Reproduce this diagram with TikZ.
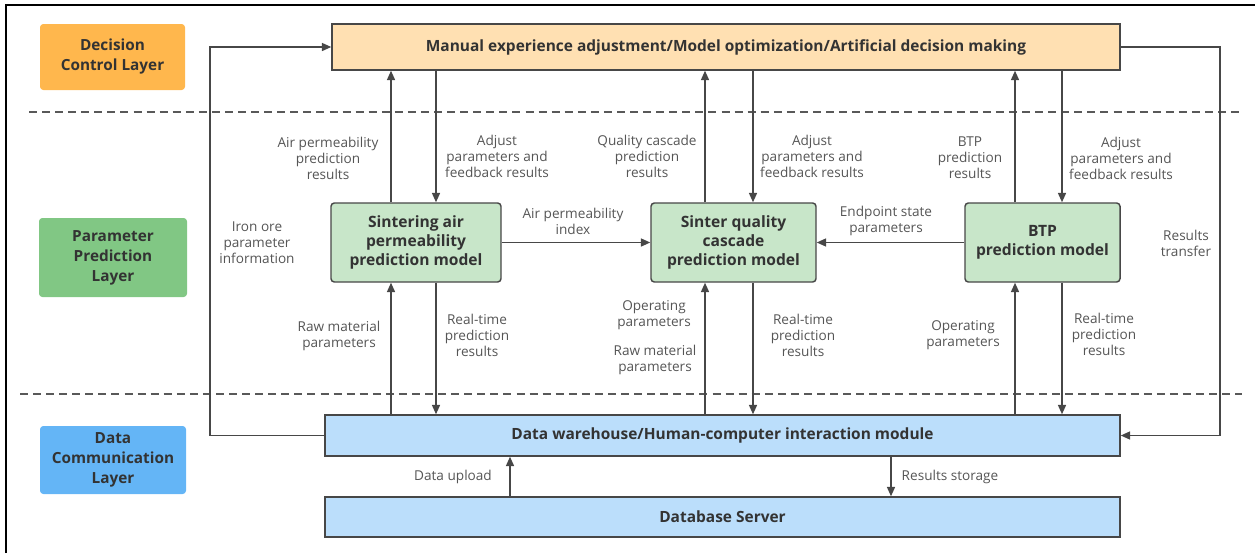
\documentclass[tikz,border=0pt]{standalone}
\usepackage{fontspec}
\setmainfont{Open Sans}
\usetikzlibrary{arrows.meta}

\definecolor{linecol}{HTML}{474747}
\definecolor{textcol}{HTML}{555555}
\definecolor{titlecol}{HTML}{333333}
\definecolor{orangeL}{HTML}{FFB74D}
\definecolor{greenL}{HTML}{81C784}
\definecolor{blueL}{HTML}{64B5F6}
\definecolor{orangeP}{HTML}{FFE0B2}
\definecolor{greenP}{HTML}{C8E6C9}
\definecolor{blueP}{HTML}{BBDEFB}

\tikzset{
  layerbox/.style={rounded corners=2.5pt, inner sep=0pt, align=center,
    text=titlecol, font=\fontsize{11.5}{15}\selectfont\bfseries},
  modulebox/.style={draw=linecol, line width=1.1pt, inner sep=0pt, align=center,
    text=titlecol, font=\fontsize{11.6}{14}\selectfont\bfseries},
  modelbox/.style={modulebox, rounded corners=2.5pt, fill=greenP,
    font=\fontsize{11.7}{14.25}\selectfont\bfseries},
  lbl/.style={inner sep=0pt, align=center, text=textcol,
    font=\fontsize{10.2}{12}\selectfont},
  arr/.style={draw=linecol, line width=1.1pt, -{Triangle[length=7pt,width=6pt]}},
  sep/.style={draw=linecol!90, line width=1.1pt, dash pattern=on 6pt off 3.8pt}
}

\begin{document}
\begin{tikzpicture}[x=0.75pt,y=-0.75pt]
\useasboundingbox (0,0) rectangle (1255,553);

% frame edges
\draw[black, line width=1.6pt] (6,553) -- (6,5) -- (1255,5);

% layer separators
\draw[sep] (29,112) -- (1240,112);
\draw[sep] (20,394) -- (1242,394);

% layer titles
\node[layerbox, fill=orangeL, minimum width=145*0.75pt, minimum height=66*0.75pt]
  (lay1) at (112.5,57) {Decision\\Control Layer};
\node[layerbox, fill=greenL, minimum width=148*0.75pt, minimum height=79*0.75pt]
  (lay2) at (113,257.5) {Parameter\\Prediction\\Layer};
\node[layerbox, fill=blueL, minimum width=146*0.75pt, minimum height=68*0.75pt]
  (lay3) at (113,460) {Data\\Communication\\Layer};

% decision layer
\node[modulebox, fill=orangeP, minimum width=788*0.75pt, minimum height=46*0.75pt]
  (top) at (726,47) {Manual experience adjustment/Model optimization/Artificial decision making};

% prediction models
\node[modelbox, minimum width=170*0.75pt, minimum height=79*0.75pt]
  (air) at (416,242.5) {Sintering air\\permeability\\prediction model};
\node[modelbox, minimum width=165*0.75pt, minimum height=79*0.75pt]
  (qual) at (733.5,242.5) {Sinter quality\\cascade\\prediction model};
\node[modelbox, minimum width=155*0.75pt, minimum height=79*0.75pt]
  (btp) at (1042.5,242.5) {BTP\\prediction model};

% data layer
\node[modulebox, fill=blueP, minimum width=795*0.75pt, minimum height=41*0.75pt]
  (dw) at (722.5,435.5) {Data warehouse/Human-computer interaction module};
\node[modulebox, fill=blueP, minimum width=795*0.75pt, minimum height=40*0.75pt]
  (db) at (722.5,517) {Database Server};

% vertical connector positions
\coordinate (xa1) at (391,0);
\coordinate (xa2) at (436,0);
\coordinate (xq1) at (705,0);
\coordinate (xq2) at (753,0);
\coordinate (xb1) at (1015,0);
\coordinate (xb2) at (1062,0);
\coordinate (xup) at (510,0);
\coordinate (xdn) at (891,0);
\coordinate (xl) at (210,0);
\coordinate (xr) at (1220,0);

% models <-> decision layer
\draw[arr] (air.north -| xa1) -- (top.south -| xa1);
\draw[arr] (top.south -| xa2) -- (air.north -| xa2);
\draw[arr] (qual.north -| xq1) -- (top.south -| xq1);
\draw[arr] (top.south -| xq2) -- (qual.north -| xq2);
\draw[arr] (btp.north -| xb1) -- (top.south -| xb1);
\draw[arr] (top.south -| xb2) -- (btp.north -| xb2);

% models <-> data warehouse
\draw[arr] (dw.north -| xa1) -- (air.south -| xa1);
\draw[arr] (air.south -| xa2) -- (dw.north -| xa2);
\draw[arr] (dw.north -| xq1) -- (qual.south -| xq1);
\draw[arr] (qual.south -| xq2) -- (dw.north -| xq2);
\draw[arr] (dw.north -| xb1) -- (btp.south -| xb1);
\draw[arr] (btp.south -| xb2) -- (dw.north -| xb2);

% between models
\draw[arr] (air.east) -- (qual.west);
\draw[arr] (btp.west) -- (qual.east);

% side loops
\draw[arr] (dw.west) -| (xl |- top.west) -- (top.west);
\draw[arr] (top.east) -| (xr |- dw.east) -- (dw.east);

% database link
\draw[arr] (db.north -| xup) -- (dw.south -| xup);
\draw[arr] (dw.south -| xdn) -- (db.north -| xdn);

% connector labels
\node[lbl] (l1) at (328,158) {Air permeability\\prediction\\results};
\node[lbl] (l2) at (497,156) {Adjust\\parameters and\\feedback results};
\node[lbl] (l3) at (647,156) {Quality cascade\\prediction\\results};
\node[lbl] (l4) at (812,156) {Adjust\\parameters and\\feedback results};
\node[lbl] (l5) at (970,158) {BTP\\prediction\\results};
\node[lbl] (l6) at (1121,158) {Adjust\\parameters and\\feedback results};
\node[lbl] (l7) at (257,243) {Iron ore\\parameter\\information};
\node[lbl] (l8) at (573,221) {Air permeability\\index};
\node[lbl] (l9) at (886,221) {Endpoint state\\parameters};
\node[lbl] (l10) at (1186,243) {Results\\transfer};
\node[lbl] (l11) at (339,336) {Raw material\\parameters};
\node[lbl] (l12) at (477,335) {Real-time\\prediction\\results};
\node[lbl] (l13) at (654,315) {Operating\\parameters};
\node[lbl] (l14) at (655,360) {Raw material\\parameters};
\node[lbl] (l15) at (803,335) {Real-time\\prediction\\results};
\node[lbl] (l16) at (963,335) {Operating\\parameters};
\node[lbl] (l17) at (1104,334) {Real-time\\prediction\\results};
\node[lbl] (l18) at (453,477) {Data upload};
\node[lbl] (l19) at (950,477) {Results storage};
\end{tikzpicture}
\end{document}
